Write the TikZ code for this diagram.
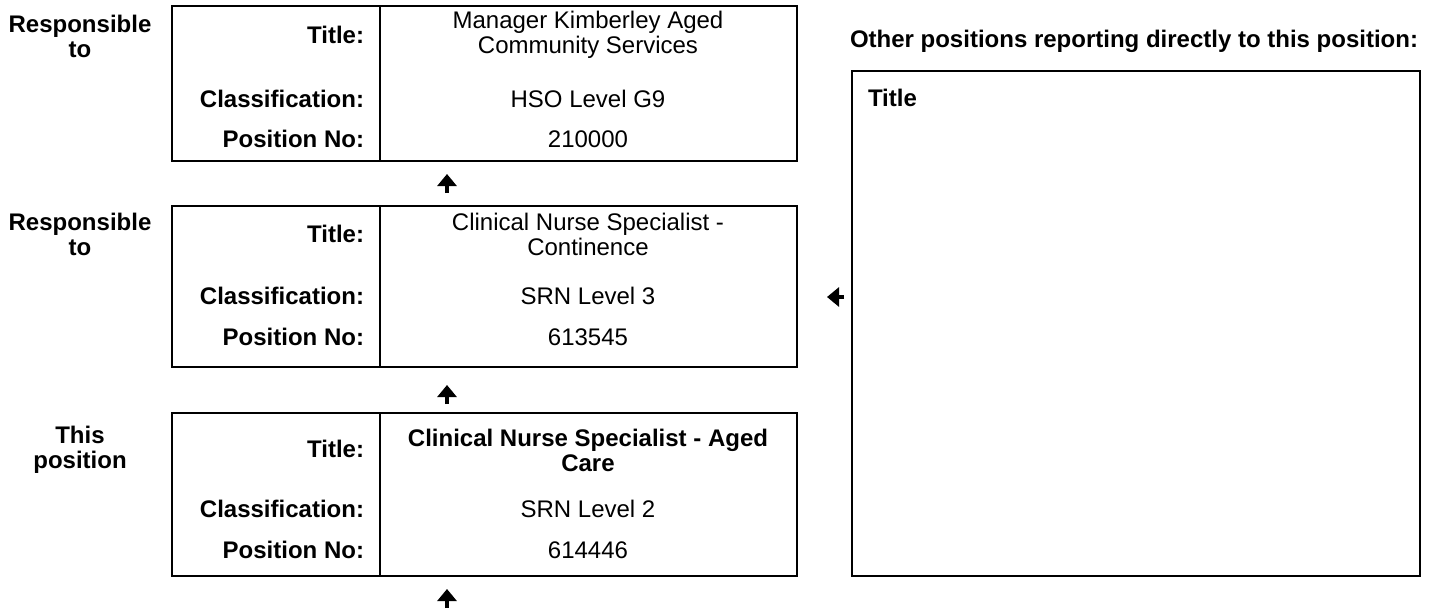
\documentclass[tikz,border=0pt]{standalone}
\usepackage{fontspec}
\setmainfont{Liberation Sans}
\usetikzlibrary{arrows.meta}
\begin{document}
\begin{tikzpicture}[x=0.5pt,y=-0.5pt,
  every node/.style={font=\fontsize{12}{12.5}\selectfont, inner sep=0pt, outer sep=0pt},
  posbox/.style={draw, line width=1.2pt, anchor=north west, minimum width=312.5pt},
  divline/.style={line width=1.2pt},
  lab/.style={font=\fontsize{12}{12.5}\selectfont\bfseries, anchor=east},
  val/.style={align=center},
  bval/.style={align=center, font=\fontsize{12}{12.5}\selectfont\bfseries},
  side/.style={align=center, font=\fontsize{12}{12.5}\selectfont\bfseries},
  arr/.style={line width=2.4pt, -{Triangle[width=9.5pt,length=6pt]}}]
\useasboundingbox (0,0) rectangle (1436,611);

% boxes
\node[posbox, minimum height=77.5pt] (b1) at (172,6) {};
\node[posbox, minimum height=80.5pt] (b2) at (172,206) {};
\node[posbox, minimum height=81.5pt] (b3) at (172,413) {};
\node[draw, line width=1.2pt, anchor=north west, minimum width=284pt, minimum height=252.5pt] (rb) at (852,71) {};

\coordinate (dv) at (380,0);
\draw[divline] (b1.north -| dv) -- (b1.south -| dv);
\draw[divline] (b2.north -| dv) -- (b2.south -| dv);
\draw[divline] (b3.north -| dv) -- (b3.south -| dv);

% side labels
\node[side] (s1) at (80,36) {Responsible\\to};
\node[side] (s2) at (80,234) {Responsible\\to};
\node[side] (s3) at (80,450) {This\\position};

% box 1
\node[lab] (t1) at (364,35) {Title:};
\node[lab] (c1) at (364,99) {Classification:};
\node[lab] (p1) at (364,139) {Position No:};
\node[val] (tv1) at (588,35) {Manager Kimberley Aged\\Community Services};
\node[val] (cv1) at (588,99) {HSO Level G9};
\node[val] (pv1) at (588,139) {210000};

% box 2
\node[lab] (t2) at (364,234) {Title:};
\node[lab] (c2) at (364,296) {Classification:};
\node[lab] (p2) at (364,337) {Position No:};
\node[val] (tv2) at (588,234) {Clinical Nurse Specialist -\\Continence};
\node[val] (cv2) at (588,296) {SRN Level 3};
\node[val] (pv2) at (588,337) {613545};

% box 3
\node[lab] (t3) at (364,449) {Title:};
\node[lab] (c3) at (364,509) {Classification:};
\node[lab] (p3) at (364,550) {Position No:};
\node[bval] (tv3) at (588,450) {Clinical Nurse Specialist - Aged\\Care};
\node[val] (cv3) at (588,509) {SRN Level 2};
\node[val] (pv3) at (588,550) {614446};

% right panel
\node[side, anchor=west] (hd) at (850,41) {Other positions reporting directly to this position:};
\node[side, anchor=west] (rt) at (868,98) {Title};

% arrows
\coordinate (a1s) at (447,193); \coordinate (a1e) at (447,174);
\coordinate (a2s) at (447,404); \coordinate (a2e) at (447,385);
\coordinate (a3s) at (447,608); \coordinate (a3e) at (447,589);
\coordinate (a4s) at (844,297); \coordinate (a4e) at (827,297);
\draw[arr] (a1s) -- (a1e);
\draw[arr] (a2s) -- (a2e);
\draw[arr] (a3s) -- (a3e);
\draw[arr] (a4s) -- (a4e);
\end{tikzpicture}
\end{document}
